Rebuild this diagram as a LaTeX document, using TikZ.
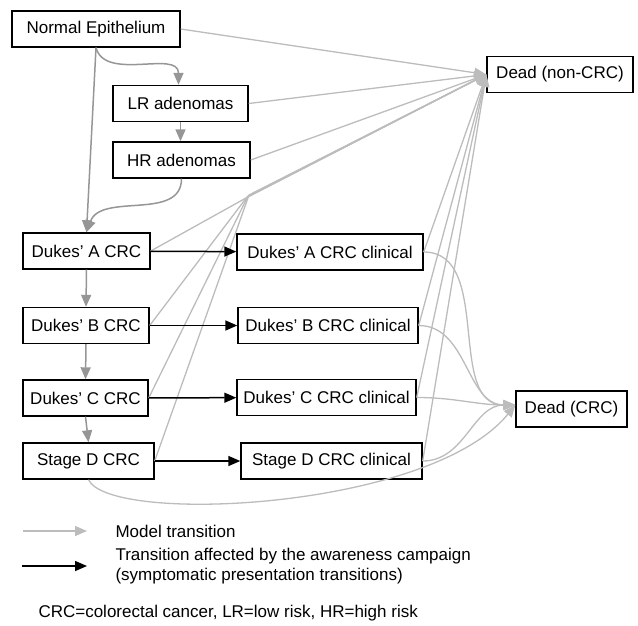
\documentclass[tikz,border=0pt]{standalone}
\usepackage{fontspec}
\setmainfont{Liberation Sans}
\usetikzlibrary{arrows.meta}

\definecolor{progray}{RGB}{150,150,150}
\definecolor{deadgray}{RGB}{188,188,188}

\begin{document}
\begin{tikzpicture}[x=1pt, y=-1pt, >={Triangle[length=12pt,width=10pt]},
		every node/.style={font=\fontsize{17}{20}\selectfont},
		state/.style={draw, line width=1.4pt, inner sep=0pt, minimum height=36pt},
		prog/.style={->, draw=progray, line width=1.5pt},
		death/.style={->, draw=deadgray, line width=1.3pt},
		symp/.style={->, line width=1.5pt}]
				\useasboundingbox (0,0) rectangle (638,625);
				\node[state, minimum width=168pt] (ne) at (96,29) {Normal Epithelium};
				\node[state, minimum width=135pt] (lr) at (180.5,103.5) {LR adenomas};
				\node[state, minimum width=137pt] (hr) at (181.5,160) {HR adenomas};
				\node[state, minimum width=127pt] (da) at (86.5,251) {Dukes' A CRC};
				\node[state, minimum width=126pt] (db) at (86,325.5) {Dukes' B CRC};
				\node[state, minimum width=125pt] (dc) at (85.5,398) {Dukes' C CRC};
				\node[state, minimum width=131pt] (sd) at (88.5,461) {Stage D CRC};
				\node[state, minimum width=186pt] (dac) at (330,252) {Dukes' A CRC clinical};
				\node[state, minimum width=180pt] (dbc) at (328,325.5) {Dukes' B CRC clinical};
				\node[state, minimum width=179pt] (dcc) at (326.5,397.5) {Dukes' C CRC clinical};
				\node[state, minimum width=181pt] (sdc) at (331.5,461) {Stage D CRC clinical};
				\node[state, minimum width=146pt] (dn) at (560,74.5) {Dead (non-CRC)};
				\node[state, minimum width=111pt] (dd) at (571.5,409) {Dead (CRC)};
				\coordinate (jn) at (246,198);

				\draw[prog] (ne.south) to[out=-75, in=90] ([xshift=-2pt]lr.north);
				\draw[prog] (ne.south) -- (da.north);
				\draw[prog] (lr.south) -- (lr.south |- hr.north);
				\draw[prog] (hr.south) to[out=-90, in=70] (da.north);
				\draw[prog] (da.south) -- (db.north);
				\draw[prog] (db.south) -- (dc.north);
				\draw[prog] (dc.south) -- (sd.north);

				\foreach \n in {ne,lr,hr,dac,dbc,dcc,sdc}
					\draw[death] (\n.east) -- (dn.west);
				\foreach \n/\s in {da/0,db/1,dc/2,sd/3}
					\draw[death] (\n.east) -- ([xshift=\s pt, yshift=\s pt]jn) -- (dn.west);
				\foreach \n in {dac,dbc,dcc,sdc}
					\draw[death] (\n.east) to[out=0, in=180] ([yshift=4pt]dd.west);
				\draw[death] (sd.south) .. controls (110,525) and (430,510) .. ([yshift=4pt]dd.west);

				\draw[symp] (da) -- (dac);
				\draw[symp] (db) -- (dbc);
				\draw[symp] (dc) -- (dcc);
				\draw[symp] (sd) -- (sdc);

				\coordinate (gray-a) at (23,531);
				\coordinate (gray-b) at (87,531);
				\coordinate (black-a) at (22,566);
				\coordinate (black-b) at (87,566);
				\draw[death] (gray-a) -- (gray-b);
				\draw[symp] (black-a) -- (black-b);
				\node[anchor=west] (lgm) at (112,531) {Model transition};
				\node[anchor=west, align=left] (lgs) at (112,566) {Transition affected by the awareness campaign\\(symptomatic presentation transitions)};
				\node[anchor=west] (note) at (35,613) {CRC=colorectal cancer, LR=low risk, HR=high risk};
		    \end{tikzpicture}
\end{document}
